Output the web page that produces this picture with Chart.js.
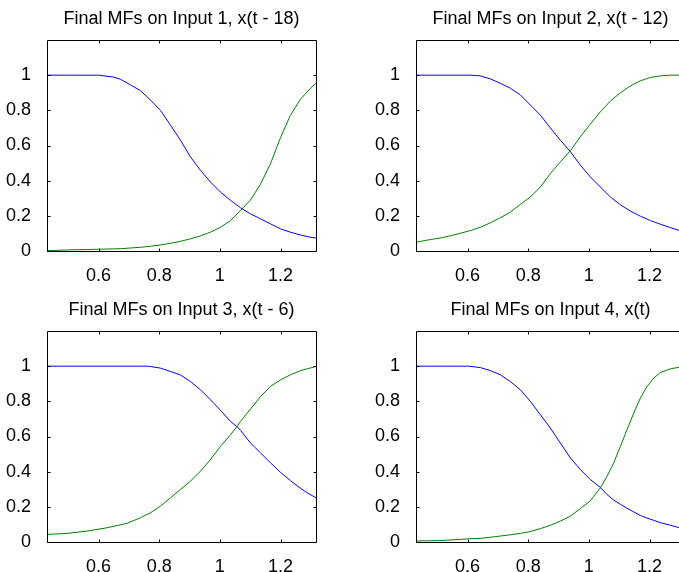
<!DOCTYPE html>
<html>
<head>
<meta charset="utf-8">
<script src="https://cdn.jsdelivr.net/npm/chart.js@4/dist/chart.umd.min.js"></script>
<style>
  html, body { margin: 0; padding: 0; background: #fff; overflow: hidden; width: 679px; height: 572px; }
  .panel { position: absolute; width: 340px; height: 286px; }
</style>
</head>
<body>
<div class="panel" style="left:0px;top:0px"><canvas id="c1"></canvas></div>
<div class="panel" style="left:369px;top:0px"><canvas id="c2"></canvas></div>
<div class="panel" style="left:0px;top:291px"><canvas id="c3"></canvas></div>
<div class="panel" style="left:369px;top:291px"><canvas id="c4"></canvas></div>
<script>
// axis ticks and ranges (same for all four panels)
const xTicks = [0.6, 0.8, 1, 1.2];
const yTicks = [0, 0.2, 0.4, 0.6, 0.8, 1];
const xRange = [0.43, 1.317];
const yRange = [0, 1.2];

const titles = [
  "Final MFs on Input 1, x(t - 18)",
  "Final MFs on Input 2, x(t - 12)",
  "Final MFs on Input 3, x(t - 6)",
  "Final MFs on Input 4, x(t)"
];

// input 1
const in1X     = [0.43, 0.5, 0.6, 0.65, 0.672, 0.705, 0.738, 0.771, 0.804, 0.837, 0.87, 0.903, 0.936, 0.969, 1.002, 1.035, 1.068, 1.101, 1.134, 1.167, 1.2, 1.232, 1.266, 1.299, 1.317];
const in1Small = [1, 1, 1, 0.989, 0.977, 0.945, 0.912, 0.859, 0.8, 0.716, 0.63, 0.535, 0.459, 0.392, 0.335, 0.288, 0.246, 0.211, 0.183, 0.154, 0.126, 0.107, 0.091, 0.078, 0.074];
const in1Large = [0.002, 0.006, 0.01, 0.012, 0.013, 0.017, 0.021, 0.027, 0.034, 0.044, 0.055, 0.069, 0.086, 0.107, 0.135, 0.173, 0.23, 0.29, 0.38, 0.497, 0.645, 0.77, 0.864, 0.926, 0.954];

// input 2
const in2X     = [0.43, 0.477, 0.51, 0.543, 0.576, 0.609, 0.642, 0.675, 0.708, 0.741, 0.774, 0.807, 0.84, 0.873, 0.906, 0.939, 0.972, 1.005, 1.038, 1.071, 1.104, 1.137, 1.17, 1.203, 1.236, 1.269, 1.299, 1.317];
const in2Small = [1, 1, 1, 1, 1, 1, 0.996, 0.979, 0.954, 0.926, 0.888, 0.83, 0.773, 0.7, 0.63, 0.565, 0.488, 0.421, 0.364, 0.307, 0.263, 0.227, 0.198, 0.173, 0.152, 0.133, 0.116, 0.108];
const in2Large = [0.05, 0.065, 0.074, 0.086, 0.101, 0.116, 0.135, 0.16, 0.189, 0.221, 0.265, 0.307, 0.364, 0.44, 0.507, 0.57, 0.65, 0.722, 0.792, 0.853, 0.9, 0.939, 0.968, 0.987, 0.996, 1, 1, 1];

// input 3
const in3X     = [0.43, 0.496, 0.562, 0.628, 0.694, 0.738, 0.76, 0.771, 0.804, 0.837, 0.87, 0.903, 0.936, 0.969, 1.002, 1.035, 1.057, 1.068, 1.101, 1.134, 1.167, 1.2, 1.233, 1.266, 1.288, 1.317];
const in3Small = [1, 1, 1, 1, 1, 1, 1, 0.998, 0.989, 0.97, 0.95, 0.913, 0.866, 0.809, 0.749, 0.686, 0.655, 0.635, 0.563, 0.507, 0.45, 0.396, 0.349, 0.305, 0.28, 0.251];
const in3Large = [0.043, 0.049, 0.062, 0.081, 0.106, 0.138, 0.157, 0.166, 0.204, 0.251, 0.299, 0.346, 0.403, 0.469, 0.544, 0.61, 0.658, 0.686, 0.756, 0.827, 0.885, 0.922, 0.951, 0.975, 0.985, 0.998];

// input 4
const in4X     = [0.43, 0.51, 0.576, 0.604, 0.642, 0.675, 0.708, 0.741, 0.774, 0.807, 0.84, 0.873, 0.906, 0.939, 0.972, 1.005, 1.038, 1.06, 1.082, 1.104, 1.126, 1.148, 1.17, 1.192, 1.214, 1.236, 1.269, 1.299, 1.317];
const in4Small = [1, 1, 1, 1, 0.992, 0.975, 0.951, 0.913, 0.866, 0.8, 0.724, 0.648, 0.563, 0.478, 0.412, 0.355, 0.31, 0.27, 0.238, 0.214, 0.192, 0.171, 0.151, 0.136, 0.123, 0.11, 0.095, 0.081, 0.076];
const in4Large = [0.006, 0.008, 0.015, 0.018, 0.021, 0.027, 0.034, 0.041, 0.049, 0.059, 0.076, 0.095, 0.119, 0.147, 0.19, 0.235, 0.308, 0.374, 0.45, 0.544, 0.639, 0.733, 0.819, 0.885, 0.932, 0.964, 0.985, 0.994, 0.997];

const FONT = "'Liberation Sans', Arial, Helvetica, sans-serif";

// matlab style box with inward ticks on all four sides
const boxTicks = {
  id: "boxTicks",
  afterDraw(chart) {
    const { ctx, chartArea: a, scales } = chart;
    const L = Math.round(a.left) + 0.5, R = Math.round(a.right) + 0.5;
    const T = Math.round(a.top) + 0.5, B = Math.round(a.bottom) + 0.5;
    ctx.save();
    ctx.strokeStyle = "#000";
    ctx.lineWidth = 1;
    ctx.beginPath();
    ctx.rect(L, T, R - L, B - T);
    scales.x.ticks.forEach(t => {
      const px = Math.round(scales.x.getPixelForValue(t.value)) + 0.5;
      ctx.moveTo(px, B); ctx.lineTo(px, B - 3);
      ctx.moveTo(px, T); ctx.lineTo(px, T + 3);
    });
    scales.y.ticks.forEach(t => {
      const py = Math.round(scales.y.getPixelForValue(t.value)) + 0.5;
      ctx.moveTo(L, py); ctx.lineTo(L + 3, py);
      ctx.moveTo(R, py); ctx.lineTo(R - 3, py);
    });
    ctx.stroke();
    ctx.restore();
  }
};

function toPoints(xs, ys) {
  return xs.map((x, i) => ({ x: x, y: ys[i] }));
}

function drawPanel(id, title, xs, small, large) {
  const ctx = document.getElementById(id).getContext("2d");
  return new Chart(ctx, {
    type: "line",
    data: {
      datasets: [
        { data: toPoints(xs, small), borderColor: "#0000ff", borderWidth: 1, pointRadius: 0, tension: 0 },
        { data: toPoints(xs, large), borderColor: "#008000", borderWidth: 1, pointRadius: 0, tension: 0 }
      ]
    },
    options: {
      responsive: true,
      maintainAspectRatio: false,
      animation: false,
      devicePixelRatio: 1,
      layout: { padding: { left: 0, right: 24, top: 0, bottom: 0 } },
      plugins: {
        legend: { display: false },
        tooltip: { enabled: false },
        title: {
          display: true,
          text: title,
          fullSize: false,
          color: "#000",
          padding: { top: 8, bottom: 10.4 },
          font: { family: FONT, size: 18, weight: "normal", lineHeight: 1.2 }
        }
      },
      scales: {
        x: {
          type: "linear",
          min: xRange[0],
          max: xRange[1],
          grid: { display: false },
          border: { display: false },
          afterBuildTicks: s => { s.ticks = xTicks.map(v => ({ value: v })); },
          afterFit: s => { s.height = 35; },
          ticks: { color: "#000", padding: 6, maxRotation: 0, autoSkip: false,
                   font: { family: FONT, size: 18 }, callback: v => String(v) }
        },
        y: {
          min: yRange[0],
          max: yRange[1],
          grid: { display: false },
          border: { display: false },
          afterBuildTicks: s => { s.ticks = yTicks.map(v => ({ value: v })); },
          afterFit: s => { s.width = 47; },
          ticks: { color: "#000", padding: 8, autoSkip: false,
                   font: { family: FONT, size: 18 }, callback: v => String(v) }
        }
      }
    },
    plugins: [boxTicks]
  });
}

drawPanel("c1", titles[0], in1X, in1Small, in1Large);
drawPanel("c2", titles[1], in2X, in2Small, in2Large);
drawPanel("c3", titles[2], in3X, in3Small, in3Large);
drawPanel("c4", titles[3], in4X, in4Small, in4Large);
</script>
</body>
</html>
